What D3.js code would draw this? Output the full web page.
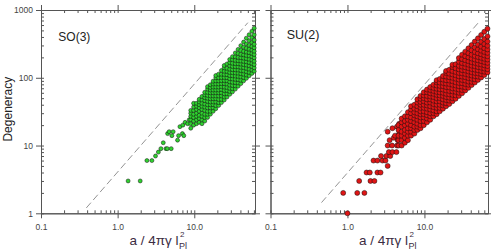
<!DOCTYPE html>
<html>
<head>
<meta charset="utf-8">
<script src="https://cdn.jsdelivr.net/npm/d3@7"></script>
<style>
    body { margin: 0; background: #fff; }
    svg { display: block; font-family: "Liberation Sans", Arial, sans-serif; }
</style>
</head>
<body>
<svg id="chart" width="491" height="252"></svg>
<script>
// tick values and labels
var yTickValues = [1, 10, 100, 1000]
var yTickLabels = ["1", "10", "100", "1000"]
var xTickValues = [0.1, 1, 10]
var xTickLabels = ["0.1", "1.0", "10.0"]
var yDomain = [1, 1000]
var xDomainSO = [0.1, 62]
var xDomainSU = [0.1, 67]

// dashed guide line (end points)
var guideSO = [[0.39, 1.2], [50, 650]]
var guideSU = [[0.46, 1.44], [52, 680]]

// SO(3): isolated points at small area
var soX = [1.37, 1.97, 2.41, 2.8, 3.12, 3.4, 3.67, 4.27, 4.45, 5.0, 3.94, 4.49, 4.7, 5.1, 5.3, 6.05, 6.24, 7.0, 7.3, 6.5, 7.1, 7.6, 8.2, 8.6, 9.2, 9.7]
var soY = [3, 3, 6, 6, 7, 8, 9, 9, 9, 9, 11, 15, 16, 14, 16, 12, 14, 15, 14, 19, 20, 22, 21, 24, 25, 28]

// SO(3): dense part, one column of degeneracies per area value
var soColX = [9.0, 9.8, 10.7, 11.6, 12.6, 13.7, 14.9, 16.2, 17.6, 19.1, 20.8, 22.6, 24.6, 26.7, 29.0, 31.5, 34.3, 37.3, 40.5, 44.0, 47.8, 52.0, 56.5, 60.5]
var soColY = [
    [18, 21, 24, 27, 30, 33],
    [20, 23, 26, 29, 33, 37, 42],
    [21, 24, 27, 30, 34, 38, 42],
    [22, 25, 28, 32, 36, 40, 44, 48],
    [21, 24, 27, 30, 34, 38, 42, 47, 53],
    [23, 26, 29, 33, 37, 41, 46, 51, 56, 61],
    [26, 29, 32, 36, 40, 45, 50, 55, 61, 68, 74],
    [29, 32, 36, 40, 44, 49, 54, 60, 66, 72, 79],
    [32, 36, 40, 44, 49, 54, 60, 66, 73, 81, 89],
    [35, 39, 44, 49, 54, 60, 66, 73, 81, 90, 100, 108],
    [39, 43, 48, 54, 60, 66, 73, 81, 90, 100, 113],
    [43, 48, 54, 60, 67, 74, 82, 91, 101, 113, 128],
    [47, 52, 58, 65, 73, 82, 91, 101, 112, 125, 140, 152],
    [52, 58, 65, 72, 81, 90, 100, 111, 124, 138, 160],
    [57, 63, 70, 78, 87, 97, 108, 120, 134, 150, 168, 186],
    [62, 69, 77, 86, 96, 107, 119, 132, 147, 164, 185, 205],
    [68, 76, 85, 95, 106, 118, 131, 146, 162, 181, 204, 232],
    [75, 84, 94, 105, 117, 130, 145, 161, 179, 200, 228, 262],
    [82, 92, 103, 115, 128, 143, 159, 177, 198, 222, 254, 298],
    [90, 101, 113, 126, 141, 157, 175, 195, 218, 246, 282, 336],
    [98, 110, 123, 138, 154, 172, 192, 214, 240, 272, 316, 384],
    [107, 120, 134, 150, 168, 188, 210, 235, 264, 300, 352, 432],
    [116, 130, 146, 163, 183, 205, 229, 257, 290, 332, 392, 486],
    [125, 140, 157, 176, 197, 221, 247, 277, 313, 360, 430, 540]
]

// SU(2): isolated points at small area
var suX = [1.0, 0.88, 1.34, 1.66, 1.42, 1.99, 2.24, 1.77, 1.95, 2.45, 2.69, 3.33, 2.18, 2.45, 2.85, 3.12, 2.73, 3.2, 3.6, 3.45, 3.84, 4.33, 3.33, 3.8, 4.4, 3.53, 4.0, 4.5, 4.15, 4.7, 3.33, 3.84, 4.4, 4.7]
var suY = [1, 2, 2, 2, 3, 3, 3, 4, 4, 4, 4, 5, 6, 6, 6, 6, 7, 7, 7, 8, 8, 8, 10, 10, 10, 12, 13, 12, 14, 15, 16, 18, 19, 21]

// SU(2): dense part
var suColX = [4.6, 5.06, 5.57, 6.1, 6.7, 7.4, 8.1, 8.9, 9.8, 10.8, 11.9, 13.1, 14.4, 15.8, 17.4, 19.1, 21.0, 23.1, 25.4, 28.0, 30.8, 33.9, 37.3, 41.0, 45.1, 49.6, 54.6, 60.0, 66.0]
var suColY = [
    [10, 12, 14, 17, 20],
    [10, 12, 14, 16, 19, 22, 25],
    [11, 13, 15, 17, 20, 23, 27],
    [12, 14, 16, 18, 21, 24, 27, 31],
    [14, 16, 18, 20, 23, 26, 30, 34, 38],
    [15, 17, 19, 22, 25, 28, 31, 35, 40],
    [17, 19, 21, 24, 27, 30, 34, 38, 43, 48],
    [18, 20, 23, 26, 29, 32, 36, 40, 44, 49, 54],
    [20, 23, 26, 29, 32, 36, 40, 45, 50, 55, 61],
    [22, 25, 28, 31, 35, 39, 43, 48, 54, 61, 67],
    [24, 27, 30, 34, 38, 43, 48, 53, 59, 66, 73],
    [27, 30, 33, 37, 41, 46, 52, 58, 64, 71, 79],
    [29, 32, 36, 40, 45, 50, 56, 62, 69, 77, 86, 92],
    [32, 36, 40, 45, 50, 55, 61, 68, 76, 85, 96],
    [35, 39, 43, 48, 54, 60, 67, 75, 84, 94, 106],
    [38, 42, 47, 52, 58, 65, 73, 82, 92, 104, 118, 126],
    [41, 46, 51, 57, 64, 72, 81, 91, 102, 115, 131],
    [45, 50, 56, 63, 70, 79, 89, 100, 112, 126, 144, 156],
    [49, 55, 62, 69, 77, 86, 97, 109, 122, 138, 158],
    [54, 60, 67, 75, 84, 94, 105, 118, 133, 150, 172, 195],
    [59, 66, 74, 83, 93, 104, 116, 130, 146, 165, 189, 219],
    [65, 72, 81, 91, 102, 114, 128, 143, 161, 182, 208, 243],
    [71, 79, 88, 99, 111, 124, 139, 156, 176, 200, 230, 272],
    [78, 87, 97, 108, 121, 135, 151, 170, 192, 219, 254, 304],
    [85, 95, 106, 118, 132, 148, 166, 186, 210, 240, 280, 342],
    [93, 104, 116, 129, 144, 161, 181, 203, 230, 263, 308, 382],
    [101, 113, 126, 141, 157, 176, 197, 222, 251, 288, 340, 428],
    [110, 123, 137, 153, 171, 191, 214, 241, 273, 314, 372, 478],
    [120, 134, 149, 166, 186, 208, 233, 262, 297, 342, 408, 530]
]

var dimensions = { width: 491, height: 252, top: 10, bottom: 213.3 }

var svg = d3.select("#chart")

function toPoints(xs, ys, colX, colY) {
    var pts = xs.map((x, i) => [x, ys[i]])
    colX.forEach(function (x, i) {
        colY[i].forEach(y => pts.push([x, y]))
    })
    return pts
}

function drawPanel(cfg) {
    var g = svg.append("g")

    var xScale = d3.scaleLog().domain(cfg.xDomain).range([cfg.left, cfg.right])
    var yScale = d3.scaleLog().domain(yDomain).range([dimensions.bottom, dimensions.top])

    var xMinor = xScale.ticks()
    var yMinor = yScale.ticks()

    // guide line
    g.append("path")
        .datum(cfg.guide)
        .attr("d", d3.line().x(d => xScale(d[0])).y(d => yScale(d[1])))
        .attr("fill", "none")
        .attr("stroke", "#777")
        .attr("stroke-width", 0.8)
        .attr("stroke-dasharray", "7,3.5")

    // frame: major ticks cross outward, minor ticks point in
    function axisPair(axisFn, scale, majors, minors, tr) {
        g.append("g").attr("transform", tr)
            .call(axisFn(scale).tickValues(majors).tickSize(5).tickSizeOuter(0).tickFormat(""))
        g.append("g").attr("transform", tr)
            .call(axisFn(scale).tickValues(minors).tickSize(-3).tickSizeOuter(0).tickFormat(""))
    }

    axisPair(d3.axisTop, xScale, xTickValues, xMinor, `translate(0,${dimensions.top})`)
    axisPair(d3.axisRight, yScale, yTickValues, yMinor, `translate(${cfg.right},0)`)
    axisPair(d3.axisLeft, yScale, yTickValues, yMinor, `translate(${cfg.left},0)`)
    axisPair(d3.axisBottom, xScale, xTickValues, xMinor, `translate(0,${dimensions.bottom})`)

    // x tick labels
    g.append("g")
        .attr("transform", `translate(0,${dimensions.bottom})`)
        .call(d3.axisBottom(xScale).tickValues(xTickValues).tickSize(5).tickPadding(6)
            .tickFormat((d, i) => xTickLabels[i]))
        .call(s => s.select(".domain").remove())
        .call(s => s.selectAll("line").remove())

    if (cfg.yLabels) {
        g.append("g")
            .attr("transform", `translate(${cfg.left},0)`)
            .call(d3.axisLeft(yScale).tickValues(yTickValues).tickSize(5).tickPadding(3)
                .tickFormat((d, i) => yTickLabels[i]))
            .call(s => s.select(".domain").remove())
            .call(s => s.selectAll("line").remove())
    }

    g.selectAll(".tick text")
        .attr("fill", "#444")
        .style("font-size", "8.5px")
        .style("font-family", "Liberation Sans, Arial, sans-serif")
    g.selectAll("path.domain, .tick line").attr("stroke", "#555").attr("stroke-width", 1)

    // points
    g.append("g")
        .selectAll("circle")
        .data(cfg.points)
        .enter()
        .append("circle")
        .attr("cx", d => xScale(d[0]))
        .attr("cy", d => yScale(d[1]))
        .attr("r", cfg.r)
        .attr("fill", cfg.color)
        .attr("stroke", "#111")
        .attr("stroke-width", 0.5)

    // group name
    g.append("text")
        .attr("x", cfg.nameX)
        .attr("y", cfg.nameY)
        .style("font-size", cfg.nameSize)
        .attr("fill", "#222")
        .text(cfg.name)

    // x axis title a / 4πγ l²_Pl
    var title = g.append("text")
        .attr("x", cfg.left + 88.5)
        .attr("y", 245)
        .style("font-size", "13.5px")
        .attr("fill", "#3b2c42")
        .text("a / 4πγ l")
    var w = title.node().getComputedTextLength()
    g.append("text")
        .attr("x", cfg.left + 88.5 + w + 1.5)
        .attr("y", 236.8)
        .style("font-size", "8px")
        .attr("fill", "#3b2c42")
        .text("2")
    g.append("text")
        .attr("x", cfg.left + 88.5 + w + 0.5)
        .attr("y", 248.5)
        .style("font-size", "9px")
        .attr("fill", "#3b2c42")
        .text("Pl")
}

drawPanel({
    left: 41, right: 255, xDomain: xDomainSO, guide: guideSO,
    points: toPoints(soX, soY, soColX, soColY), color: "#2fd12f", r: 2,
    name: "SO(3)", nameX: 58.3, nameY: 40.5, nameSize: "12px", yLabels: true
})
drawPanel({
    left: 270.5, right: 488, xDomain: xDomainSU, guide: guideSU,
    points: toPoints(suX, suY, suColX, suColY), color: "#e01515", r: 2.5,
    name: "SU(2)", nameX: 286.7, nameY: 38.5, nameSize: "12.5px", yLabels: false
})

svg.append("text")
    .attr("transform", "translate(11.8,109.2) rotate(-90)")
    .style("text-anchor", "middle")
    .style("font-size", "12px")
    .attr("fill", "#222")
    .text("Degeneracy")
</script>
</body>
</html>
